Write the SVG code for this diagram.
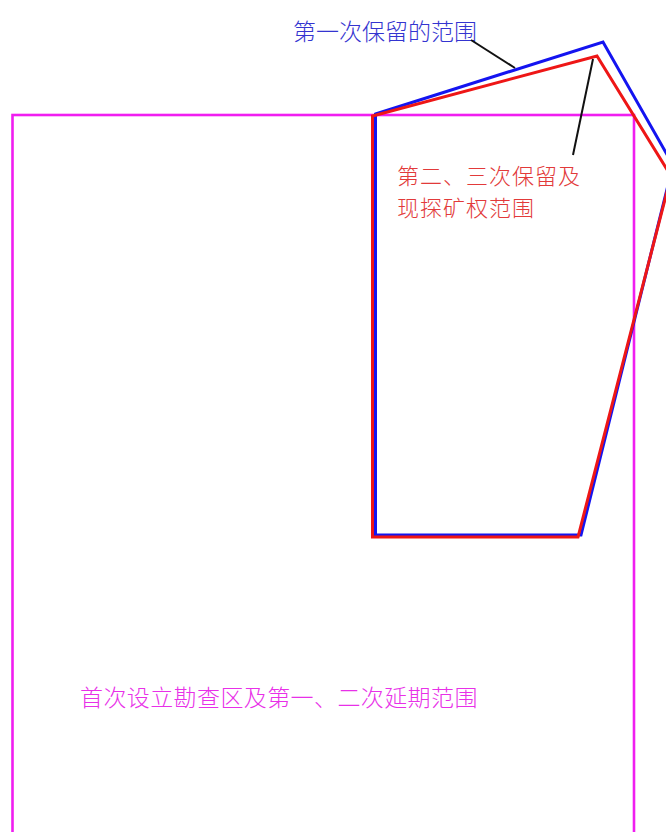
<svg xmlns="http://www.w3.org/2000/svg" width="666" height="832" viewBox="0 0 666 832">
<style>
.t{font-family:"Noto Sans CJK SC","Noto Sans",sans-serif;font-size:23px;font-weight:300}
.t2{font-family:"Noto Sans CJK SC","Noto Sans",sans-serif;font-size:22px;font-weight:300;letter-spacing:1px}
.area{fill:none;stroke-linejoin:miter}
</style>
<rect x="0" y="0" width="666" height="832" fill="#ffffff"/>
<g id="area-initial">
<rect class="area" x="12.5" y="115" width="621.5" height="740" stroke="#f01ef0" stroke-width="2.6"/>
<text class="t" x="80" y="706" fill="#e830e8" letter-spacing="0.4">首次设立勘查区及第一、二次延期范围</text>
</g>
<g id="area-first">
<polygon class="area" points="375.5,114 603,42 673,165 581,535 375.5,535" stroke="#1414f0" stroke-width="3"/>
<text class="t" x="293" y="40" fill="#3434d0">第一次保留的范围</text>
</g>
<g id="area-second">
<polygon class="area" points="372.5,116 597,56 671,176 578,537 372.5,537" stroke="#ee1616" stroke-width="3"/>
<text class="t2" x="397" y="184" fill="#e23a3a">第二、三次保留及</text>
<text class="t2" x="397" y="216" fill="#e23a3a">现探矿权范围</text>
</g>
<g id="connectors" stroke="#111111" stroke-width="2" fill="none">
<line x1="471" y1="40" x2="515" y2="68"/>
<line x1="593" y1="59" x2="573" y2="155"/>
</g>
</svg>
